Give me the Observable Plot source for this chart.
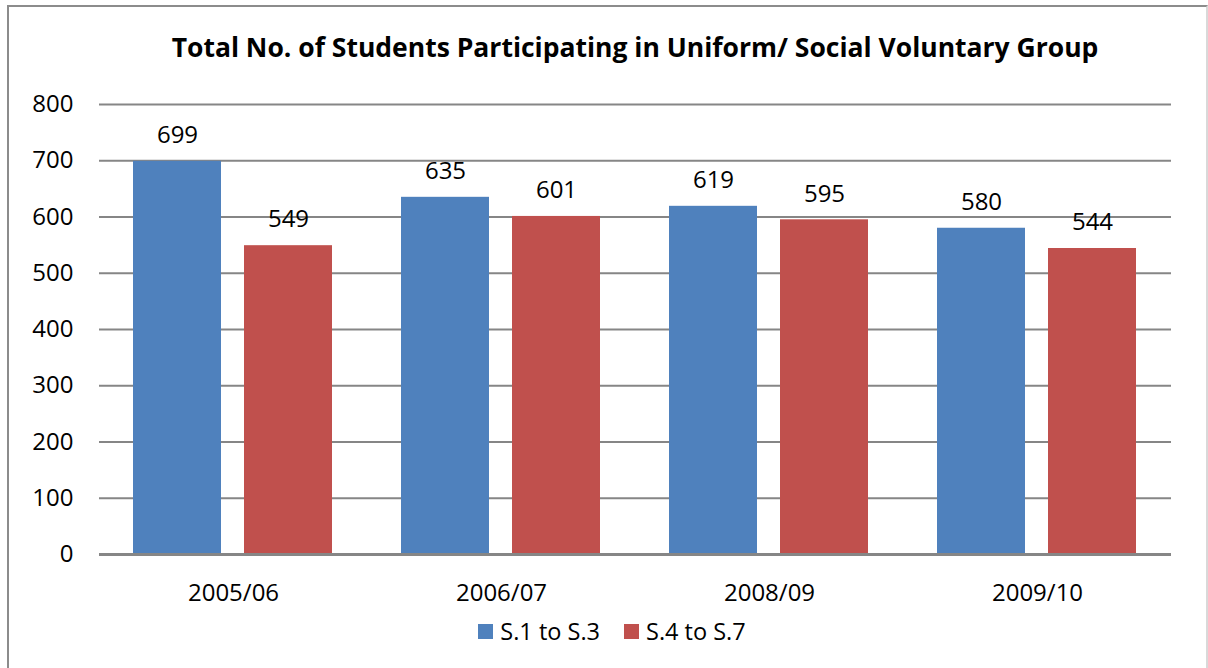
<!DOCTYPE html>
<html>
<head>
<meta charset="utf-8">
<script src="https://cdn.jsdelivr.net/npm/d3@7"></script>
<script src="https://cdn.jsdelivr.net/npm/@observablehq/plot@0.6"></script>
<style>
  html, body { margin: 0; padding: 0; background: #fff; overflow: hidden; }
  body { width: 1208px; height: 668px; position: relative; font-family: "Open Sans", sans-serif; }
  #frame { position: absolute; left: 7px; top: 5px; width: 1197px; height: 700px; border: 2px solid #8c8c8c; border-right-color: #d9d9d9; }
  #title { position: absolute; left: 0; width: 1270px; top: 29px; text-align: center; font-weight: bold; font-size: 26.5px; color: #000; }
  #chart { position: absolute; left: 0; top: 0; }
  #legend { position: absolute; left: 0; width: 1224px; top: 615px; display: flex; justify-content: center; gap: 24px; font-size: 23.5px; color: #000; }
  .item { display: flex; align-items: center; gap: 7px; }
  .sw { width: 15px; height: 15px; display: inline-block; }
</style>
</head>
<body>
<div id="frame"></div>
<div id="chart"></div>
<div id="title">Total No. of Students Participating in Uniform/ Social Voluntary Group</div>
<div id="legend"></div>
<script>
const years = ["2005/06", "2006/07", "2008/09", "2009/10"];
const seriesNames = ["S.1 to S.3", "S.4 to S.7"];
const juniorValues = [699, 635, 619, 580];
const seniorValues = [549, 601, 595, 544];
const colors = ["#4F81BD", "#C0504D"];
const yTicks = [0, 100, 200, 300, 400, 500, 600, 700, 800];

const data = [];
years.forEach((y, i) => {
  data.push({year: y, series: seriesNames[0], value: juniorValues[i]});
  data.push({year: y, series: seriesNames[1], value: seniorValues[i]});
});

const plot = Plot.plot({
  width: 1208,
  height: 668,
  marginLeft: 98,
  marginRight: 37,
  marginTop: 104,
  marginBottom: 114,
  style: {fontFamily: "Open Sans, sans-serif", fontSize: "24px", color: "#000", background: "transparent"},
  fx: {domain: years, padding: 0, label: null, tickSize: 0, tickPadding: 29, axis: "bottom"},
  x: {domain: seriesNames, paddingInner: 0.2054, paddingOuter: 0.3, axis: null},
  y: {domain: [0, 800], ticks: yTicks, tickSize: 0, tickPadding: 26, label: null},
  color: {domain: seriesNames, range: colors},
  marks: [
    Plot.ruleY(yTicks.filter(d => d > 0), {stroke: "#868686", strokeWidth: 2, strokeOpacity: 1}),
    Plot.barY(data, {fx: "year", x: "series", y: "value", fill: "series"}),
    Plot.ruleY([0], {stroke: "#868686", strokeWidth: 3, strokeOpacity: 1}),
    Plot.text(data, {fx: "year", x: "series", y: "value", text: d => String(d.value), dy: -26, fontSize: 24, fill: "#000"})
  ]
});
document.getElementById("chart").appendChild(plot);

const legend = document.getElementById("legend");
seriesNames.forEach((s, i) => {
  const item = document.createElement("div");
  item.className = "item";
  const sw = document.createElement("span");
  sw.className = "sw";
  sw.style.background = colors[i];
  const t = document.createElement("span");
  t.textContent = s;
  item.appendChild(sw);
  item.appendChild(t);
  legend.appendChild(item);
});
</script>
</body>
</html>
